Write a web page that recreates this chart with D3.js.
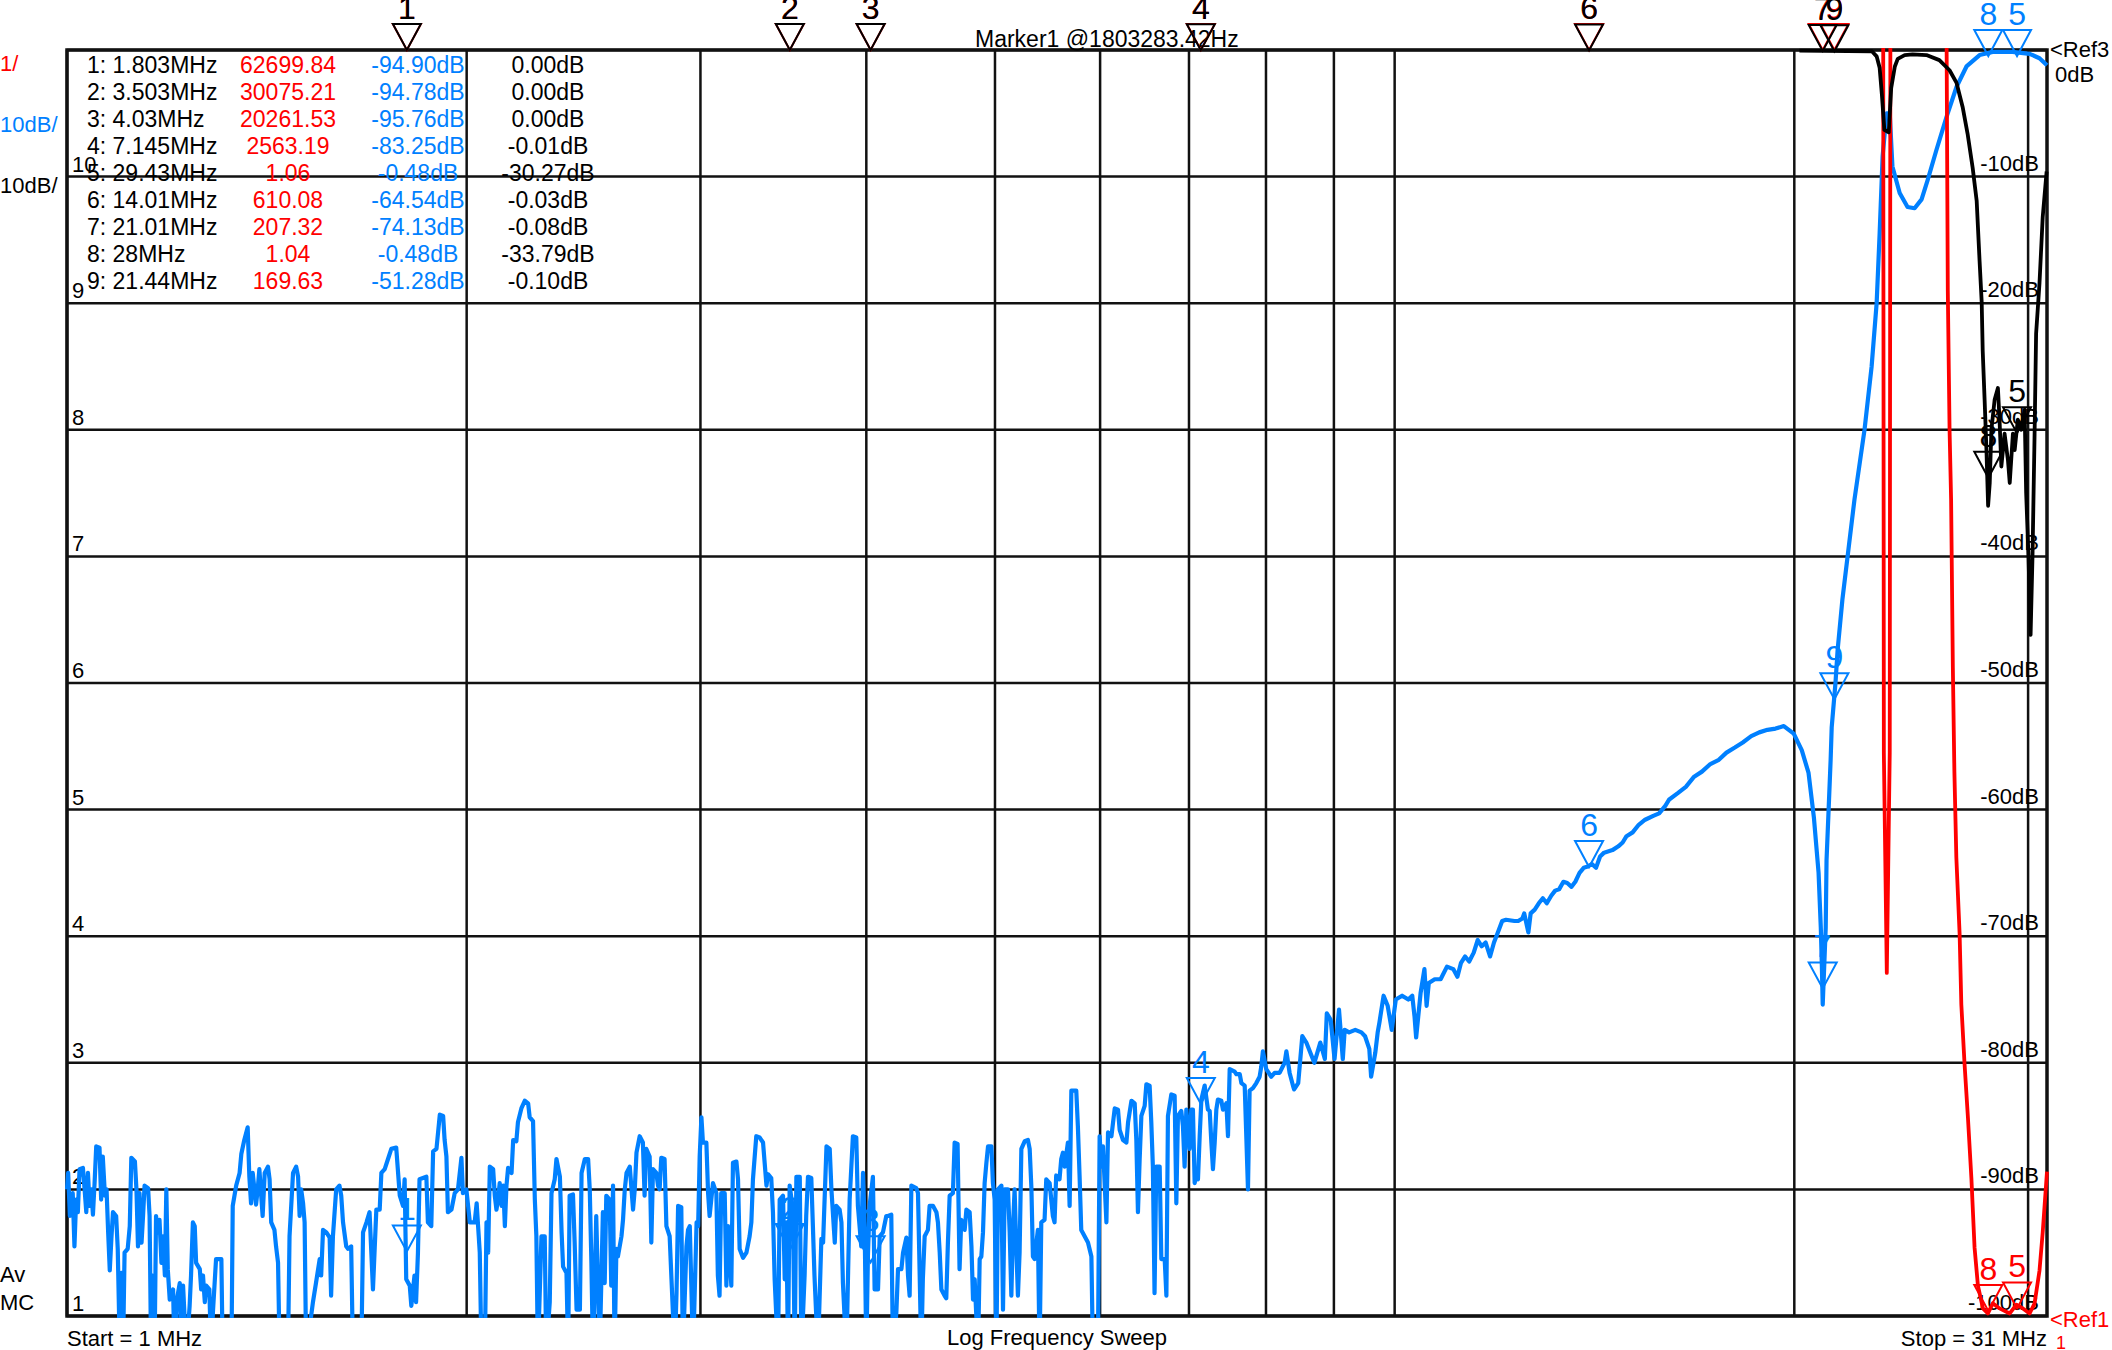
<!DOCTYPE html>
<html>
<head>
<meta charset="utf-8">
<script src="https://cdn.jsdelivr.net/npm/d3@7"></script>
<style>
html, body { margin: 0; padding: 0; background: #fff; }
svg text { font-family: "Liberation Sans", Arial, sans-serif; }
</style>
</head>
<body>
<div id="chart"></div>
<script>
// marker table
const markerIds = [1, 2, 3, 4, 5, 6, 7, 8, 9];
const markerFreq = [1.803, 3.503, 4.03, 7.145, 29.43, 14.01, 21.01, 28, 21.44];
const markerRed = [62699.84, 30075.21, 20261.53, 2563.19, 1.06, 610.08, 207.32, 1.04, 169.63];
const markerBlue = [-94.90, -94.78, -95.76, -83.25, -0.48, -64.54, -74.13, -0.48, -51.28];
const markerBlack = [0.00, 0.00, 0.00, -0.01, -30.27, -0.03, -0.08, -33.79, -0.10];

// axes
const freqGrid = [1, 2, 3, 4, 5, 6, 7, 8, 9, 10, 20, 30];
const dbTicks = [0, -10, -20, -30, -40, -50, -60, -70, -80, -90, -100];
const ratioTicks = [1, 2, 3, 4, 5, 6, 7, 8, 9, 10];

// blue trace [MHz, dB]
const blueLow = [[1.000,-90.0],[1.002,-88.7],[1.005,-92.1],[1.010,-90.3],[1.013,-94.5],[1.016,-90.8],[1.019,-91.8],[1.022,-88.4],[1.028,-88.3],[1.031,-90.0],[1.034,-91.8],[1.037,-88.7],[1.040,-91.3],[1.043,-90.0],[1.046,-92.0],[1.049,-89.5],[1.052,-86.6],[1.058,-86.7],[1.061,-90.8],[1.064,-87.4],[1.068,-90.5],[1.071,-90.0],[1.074,-93.4],[1.077,-96.4],[1.080,-93.9],[1.083,-91.8],[1.089,-92.1],[1.092,-94.7],[1.096,-103],[1.099,-96.6],[1.102,-103],[1.105,-95.0],[1.111,-94.7],[1.115,-92.9],[1.118,-87.5],[1.125,-87.8],[1.128,-90.0],[1.131,-94.5],[1.134,-90.3],[1.138,-94.2],[1.141,-92.1],[1.144,-89.7],[1.151,-89.9],[1.154,-92.1],[1.157,-103],[1.160,-96.8],[1.164,-103],[1.167,-92.1],[1.171,-93.4],[1.174,-92.4],[1.178,-95.8],[1.181,-93.7],[1.185,-96.8],[1.188,-90.0],[1.191,-96.3],[1.195,-98.7],[1.202,-97.9],[1.205,-103],[1.209,-98.9],[1.216,-97.4],[1.219,-103],[1.223,-97.6],[1.230,-103],[1.237,-99.2],[1.240,-96.8],[1.244,-92.6],[1.248,-92.9],[1.251,-95.8],[1.259,-96.3],[1.262,-97.9],[1.266,-96.8],[1.270,-98.9],[1.273,-97.6],[1.280,-97.9],[1.284,-103],[1.288,-99.7],[1.295,-95.5],[1.307,-95.5],[1.310,-103],[1.330,-103],[1.333,-91.3],[1.341,-89.7],[1.349,-88.7],[1.353,-87.2],[1.360,-86.1],[1.368,-85.1],[1.372,-89.0],[1.376,-91.1],[1.380,-88.7],[1.388,-91.2],[1.392,-90.0],[1.396,-88.4],[1.404,-92.1],[1.409,-88.7],[1.417,-88.2],[1.421,-89.2],[1.425,-92.6],[1.433,-93.2],[1.437,-94.5],[1.442,-95.8],[1.446,-103],[1.467,-103],[1.471,-93.7],[1.480,-88.7],[1.488,-88.2],[1.493,-89.0],[1.497,-92.1],[1.501,-90.0],[1.506,-91.1],[1.510,-92.6],[1.514,-103],[1.532,-98.9],[1.540,-97.4],[1.550,-95.5],[1.554,-96.8],[1.559,-93.2],[1.568,-93.4],[1.577,-93.8],[1.581,-98.4],[1.586,-93.7],[1.595,-90.0],[1.604,-89.7],[1.609,-90.5],[1.614,-92.6],[1.623,-94.5],[1.628,-94.7],[1.637,-94.5],[1.642,-103],[1.666,-103],[1.671,-93.4],[1.681,-92.6],[1.690,-91.8],[1.700,-97.9],[1.710,-91.6],[1.720,-91.6],[1.725,-88.7],[1.735,-88.4],[1.745,-87.6],[1.755,-86.8],[1.770,-86.7],[1.781,-90.5],[1.791,-91.3],[1.796,-89.2],[1.801,-97.1],[1.812,-97.6],[1.817,-99.2],[1.827,-96.8],[1.832,-98.9],[1.838,-95.0],[1.843,-89.2],[1.854,-89.1],[1.865,-89.0],[1.870,-92.6],[1.881,-92.9],[1.887,-87.0],[1.898,-86.8],[1.909,-84.1],[1.920,-84.2],[1.925,-86.1],[1.931,-87.4],[1.936,-91.8],[1.948,-91.6],[1.959,-90.3],[1.970,-90.0],[1.982,-87.5],[1.987,-90.3],[1.999,-90.0],[2.011,-92.6]];

const blueMid = [[2.028,-92.6],[2.035,-91.1],[2.046,-95.0],[2.052,-103],[2.064,-103],[2.070,-92.6],[2.076,-95.0],[2.082,-88.2],[2.094,-88.4],[2.100,-90.5],[2.106,-91.6],[2.112,-90.8],[2.118,-89.5],[2.125,-91.3],[2.131,-89.7],[2.137,-92.9],[2.143,-89.7],[2.149,-88.3],[2.162,-88.7],[2.168,-86.1],[2.180,-86.2],[2.186,-84.7],[2.199,-83.6],[2.212,-83.0],[2.225,-83.2],[2.231,-84.3],[2.244,-84.6],[2.251,-90.8],[2.257,-93.7],[2.263,-103],[2.277,-93.7],[2.290,-93.7],[2.296,-103],[2.310,-98.9],[2.317,-90.3],[2.330,-89.2],[2.337,-87.6],[2.351,-89.0],[2.358,-93.4],[2.364,-96.1],[2.378,-96.6],[2.385,-103],[2.391,-90.5],[2.405,-90.4],[2.412,-94.2],[2.420,-99.5],[2.434,-99.5],[2.441,-88.7],[2.455,-87.6],[2.469,-87.6],[2.476,-90.0],[2.483,-95.8],[2.490,-103],[2.504,-92.1],[2.519,-103],[2.533,-91.8],[2.541,-97.4],[2.548,-90.5],[2.563,-90.8],[2.570,-97.6],[2.578,-89.7],[2.585,-103],[2.593,-94.7],[2.600,-95.3],[2.616,-93.7],[2.623,-92.4],[2.631,-90.0],[2.639,-88.7],[2.654,-88.2],[2.669,-91.6],[2.677,-90.0],[2.685,-87.1],[2.700,-85.8],[2.715,-86.3],[2.723,-90.5],[2.731,-86.8],[2.747,-87.4],[2.755,-94.2],[2.763,-88.4],[2.779,-88.7],[2.787,-89.7],[2.795,-90.0],[2.803,-87.5],[2.819,-87.6],[2.828,-92.9],[2.844,-93.7],[2.853,-97.1],[2.869,-103],[2.878,-98.2],[2.886,-91.3],[2.902,-91.4],[2.910,-103],[2.928,-94.5],[2.936,-93.2],[2.945,-92.9],[2.962,-103],[2.980,-92.6],[2.988,-92.9],[2.996,-87.4],[3.005,-84.3],[3.013,-86.3],[3.031,-86.3],[3.040,-90.3],[3.048,-92.1],[3.066,-89.5],[3.084,-90.3],[3.092,-96.8],[3.101,-98.4],[3.110,-90.3],[3.129,-90.3],[3.138,-97.6],[3.147,-92.9],[3.165,-97.6],[3.174,-87.9],[3.193,-87.8],[3.202,-89.2],[3.211,-94.7],[3.230,-95.4],[3.249,-95.0],[3.267,-93.7],[3.277,-92.6],[3.286,-89.2],[3.305,-85.8],[3.324,-85.9],[3.344,-86.3],[3.364,-89.7],[3.373,-88.8],[3.392,-89.1],[3.402,-91.8],[3.412,-97.1],[3.432,-103],[3.442,-90.8],[3.462,-90.5],[3.472,-97.1],[3.482,-92.6],[3.492,-103],[3.502,-89.7],[3.522,-91.6],[3.533,-103],[3.543,-89.0],[3.564,-89.0],[3.574,-103],[3.594,-96.8],[3.604,-92.1],[3.615,-89.0],[3.636,-89.1],[3.646,-92.9],[3.656,-96.8],[3.678,-103],[3.700,-93.9],[3.711,-94.2],[3.733,-86.6],[3.754,-86.8],[3.765,-90.0],[3.787,-94.2],[3.797,-91.3],[3.819,-91.6],[3.831,-92.6],[3.841,-97.4],[3.864,-103],[3.886,-90.8],[3.908,-85.8],[3.931,-85.9],[3.942,-91.3],[3.965,-94.5],[3.977,-88.7],[3.988,-92.6],[4.000,-103],[4.011,-95.3],[4.023,-91.3],[4.046,-89.0],[4.058,-97.9],[4.082,-97.9],[4.094,-93.7],[4.117,-93.4],[4.141,-92.1]];

const blueRise = [[4.153,-92.1],[4.177,-92.0],[4.189,-103],[4.214,-99.7],[4.226,-96.3],[4.251,-96.3],[4.263,-95.0],[4.288,-93.8],[4.300,-96.8],[4.312,-98.4],[4.325,-89.7],[4.362,-89.9],[4.375,-90.3],[4.387,-96.3],[4.400,-103],[4.412,-97.1],[4.426,-93.7],[4.451,-93.2],[4.464,-91.3],[4.490,-91.3],[4.517,-91.8],[4.529,-92.6],[4.543,-95.0],[4.556,-97.9],[4.582,-98.4],[4.595,-98.6],[4.608,-94.2],[4.622,-90.5],[4.648,-90.3],[4.662,-86.3],[4.686,-86.4],[4.702,-96.3],[4.716,-92.4],[4.744,-93.2],[4.758,-91.6],[4.785,-91.8],[4.800,-94.5],[4.813,-98.7],[4.827,-97.1],[4.855,-103],[4.869,-95.5],[4.883,-95.3],[4.897,-93.4],[4.911,-89.5],[4.926,-87.9],[4.940,-86.6],[4.969,-86.6],[4.982,-89.5],[4.997,-90.8],[5.012,-103],[5.026,-90.0],[5.056,-89.7],[5.070,-99.5],[5.085,-90.0],[5.114,-90.0],[5.129,-93.4],[5.144,-98.4],[5.159,-92.9],[5.173,-90.0],[5.188,-94.5],[5.203,-98.4],[5.218,-95.0],[5.234,-86.8],[5.264,-86.2],[5.294,-86.1],[5.310,-86.8],[5.326,-89.9],[5.340,-95.3],[5.356,-95.5],[5.386,-93.2],[5.402,-103],[5.418,-92.6],[5.449,-92.4],[5.465,-89.2],[5.497,-89.5],[5.528,-92.1],[5.544,-92.6],[5.560,-88.9],[5.592,-89.2],[5.609,-87.6],[5.625,-87.1],[5.642,-88.2],[5.674,-86.3],[5.691,-91.3],[5.708,-82.2],[5.757,-82.2],[5.773,-85.0],[5.790,-88.9],[5.807,-93.2],[5.841,-93.7],[5.875,-94.2],[5.910,-95.3],[5.926,-103],[5.977,-103],[5.995,-85.8],[6.013,-88.2],[6.030,-86.6],[6.066,-92.6],[6.083,-85.5],[6.119,-85.8],[6.154,-83.6],[6.189,-83.7],[6.207,-85.3],[6.243,-86.1],[6.280,-86.3],[6.298,-84.7],[6.335,-83.0],[6.371,-83.2],[6.389,-86.1],[6.407,-91.8],[6.426,-87.6],[6.445,-84.2],[6.482,-83.4],[6.501,-81.7],[6.538,-81.8],[6.557,-84.7],[6.575,-88.2],[6.594,-98.2],[6.614,-88.2],[6.653,-88.2],[6.672,-95.5],[6.711,-95.5],[6.731,-98.4],[6.749,-84.2],[6.789,-82.5],[6.828,-82.6],[6.848,-91.1],[6.867,-84.2],[6.907,-83.8],[6.927,-85.0],[6.947,-88.2],[6.968,-83.7],[7.007,-86.8],[7.028,-83.7],[7.048,-83.7],[7.069,-89.5],[7.090,-88.9],[7.110,-89.2],[7.131,-85.8],[7.152,-82.9],[7.193,-81.8],[7.234,-83.7],[7.256,-83.8],[7.277,-86.3],[7.297,-88.4],[7.319,-86.3],[7.340,-83.7],[7.360,-82.9],[7.404,-83.0],[7.425,-83.7],[7.469,-83.2],[7.490,-85.8],[7.512,-80.5],[7.577,-80.7],[7.600,-80.9],[7.644,-80.9],[7.666,-81.6],[7.710,-81.8],[7.754,-90.0],[7.776,-82.2],[7.821,-82.0],[7.867,-81.6],[7.912,-81.1],[7.935,-80.3],[7.957,-79.1],[8.004,-80.5],[8.074,-81.1],[8.121,-80.8],[8.191,-80.8],[8.263,-80.0],[8.288,-79.1],[8.335,-80.8],[8.383,-81.8]];

const blueHigh = [[8.40,-82.1],[8.46,-81.6],[8.52,-77.9],[8.58,-78.4],[8.64,-79.2],[8.70,-80.0],[8.79,-78.4],[8.86,-79.7],[8.89,-76.1],[8.95,-76.6],[9.01,-79.7],[9.08,-75.8],[9.14,-79.7],[9.17,-77.4],[9.24,-77.6],[9.34,-77.4],[9.44,-77.6],[9.50,-77.9],[9.57,-78.9],[9.60,-81.1],[9.67,-79.2],[9.71,-77.6],[9.74,-76.8],[9.81,-74.7],[9.88,-75.5],[9.95,-77.4],[10.02,-75.0],[10.13,-74.7],[10.24,-75.0],[10.31,-74.7],[10.35,-76.3],[10.38,-78.0],[10.46,-74.5],[10.53,-72.6],[10.57,-75.5],[10.61,-73.7],[10.72,-73.4],[10.83,-73.4],[10.95,-72.4],[11.07,-72.6],[11.15,-73.2],[11.22,-72.1],[11.30,-71.6],[11.38,-72.0],[11.47,-71.3],[11.55,-70.3],[11.63,-70.8],[11.71,-70.5],[11.80,-71.6],[11.88,-70.5],[11.96,-69.7],[12.05,-68.8],[12.13,-68.7],[12.31,-68.8],[12.39,-68.8],[12.48,-68.6],[12.52,-68.2],[12.61,-69.7],[12.66,-68.2],[12.75,-67.9],[12.84,-67.4],[12.93,-67.0],[13.02,-67.4],[13.12,-66.8],[13.21,-66.4],[13.30,-66.3],[13.40,-65.7],[13.49,-65.8],[13.59,-66.1],[13.68,-65.7],[13.78,-65.0],[13.88,-64.6],[13.98,-64.5],[14.08,-64.3],[14.18,-64.6],[14.28,-63.7],[14.38,-63.4],[14.59,-63.2],[14.74,-62.9],[14.85,-62.6],[14.95,-62.1],[15.11,-61.8],[15.27,-61.2],[15.44,-60.8],[15.66,-60.5],[15.82,-60.3],[15.99,-59.7],[16.10,-59.2],[16.34,-58.7],[16.57,-58.2],[16.81,-57.4],[17.04,-57.0],[17.29,-56.4],[17.53,-56.1],[17.78,-55.5],[18.04,-55.1],[18.29,-54.7],[18.56,-54.2],[18.82,-53.9],[19.09,-53.7],[19.36,-53.6],[19.64,-53.4],[19.98,-54.0],[20.26,-55.3],[20.50,-57.1],[20.69,-60.6],[20.86,-65.0],[20.94,-69.3],[20.98,-72.4],[21.01,-75.4],[21.12,-69.3],[21.15,-64.0],[21.23,-59.8],[21.30,-56.1],[21.34,-53.5],[21.48,-50.0],[21.56,-47.4],[21.74,-43.4],[22.20,-35.5],[22.59,-30.0],[22.87,-25.0],[23.07,-20.0],[23.19,-14.5],[23.31,-8.4],[23.47,-5.0],[23.60,-5.0],[23.71,-9.2],[24.01,-11.3],[24.34,-12.4],[24.64,-12.5],[24.94,-11.8],[25.20,-10.3],[25.59,-7.9],[26.04,-5.3],[26.50,-2.9],[26.96,-1.3],[27.58,-0.4],[28.21,-0.15],[29.20,-0.15],[30.08,-0.3],[30.60,-0.65],[31.0,-1.2]];

// black trace [MHz, dB]
const blackTrace = [[20.18,-0.05],[22.88,-0.1],[23.07,-0.5],[23.19,-1.4],[23.28,-3.5],[23.38,-6.3],[23.56,-6.5],[23.66,-3.0],[23.81,-1.3],[23.93,-0.7],[24.22,-0.4],[24.55,-0.35],[25.15,-0.4],[25.72,-0.8],[26.18,-1.6],[26.50,-2.6],[26.78,-4.5],[27.01,-6.6],[27.25,-9.3],[27.44,-11.9],[27.58,-16.7],[27.68,-19.9],[27.73,-23.8],[27.82,-27.6],[27.91,-31.6],[27.99,-36.0],[28.07,-34.2],[28.15,-30.0],[28.31,-27.6],[28.47,-26.7],[28.55,-29.2],[28.64,-32.9],[28.80,-30.3],[28.97,-32.4],[29.06,-34.2],[29.22,-30.3],[29.31,-31.6],[29.47,-29.2],[29.65,-30.0],[29.82,-28.4],[29.90,-35.0],[30.02,-40.0],[30.13,-46.2],[30.23,-40.0],[30.34,-30.3],[30.42,-22.4],[30.60,-18.4],[30.77,-13.2],[30.91,-10.8],[30.98,-9.6]];

// red trace [MHz, ratio]
const redTrace = [[1.803,62699.84],[3.503,30075.21],[4.03,20261.53],[7.145,2563.19],[14.01,610.08],[21.01,207.32],[21.44,169.63],[23.33,150],[23.36,5.45],[23.48,3.71],[23.60,5.45],[23.63,150],[25.5,300],[26.02,12],[26.10,9.1],[26.18,8.0],[26.25,7.45],[26.33,6.12],[26.40,5.3],[26.49,4.62],[26.64,4.02],[26.72,3.46],[26.87,2.99],[27.03,2.56],[27.19,2.09],[27.34,1.54],[27.50,1.24],[27.74,1.06],[27.98,1.02],[28.22,1.10],[28.55,1.06],[29.06,1.02],[29.40,1.09],[29.73,1.06],[30.08,1.02],[30.34,1.10],[30.60,1.36],[30.77,1.66],[31.0,2.14]];

const BLUE = "#0080ff", RED = "#ff0000", BLACK = "#000";

const width = 2112, height = 1350;
const pLeft = 67, pRight = 2047, pTop = 50, pBottom = 1316;

const svg = d3.select("#chart").append("svg")
    .attr("width", width)
    .attr("height", height);

const x = d3.scaleLog().domain([1, 31]).range([pLeft, pRight]);
const yDb = d3.scaleLinear().domain([-100, 0]).range([pBottom, pTop]);
const yRatio = d3.scaleLinear().domain([1, 11]).range([pBottom, pTop]);

// grid
svg.append("g").selectAll("line")
    .data(freqGrid)
    .join("line")
    .attr("x1", d => x(d)).attr("x2", d => x(d))
    .attr("y1", pTop).attr("y2", pBottom)
    .attr("stroke", "#111").attr("stroke-width", 2.5);

svg.append("g").selectAll("line")
    .data(dbTicks)
    .join("line")
    .attr("x1", pLeft).attr("x2", pRight)
    .attr("y1", d => yDb(d)).attr("y2", d => yDb(d))
    .attr("stroke", "#111").attr("stroke-width", 2.5);

svg.append("rect")
    .attr("x", pLeft).attr("y", pTop)
    .attr("width", pRight - pLeft).attr("height", pBottom - pTop)
    .attr("fill", "none").attr("stroke", "#111").attr("stroke-width", 3.5);

// left ratio labels and right dB labels
svg.append("g").selectAll("text")
    .data(ratioTicks)
    .join("text")
    .attr("x", pLeft + 5).attr("y", d => yRatio(d) - 5)
    .attr("font-size", 22)
    .text(d => d);

svg.append("g").selectAll("text")
    .data(dbTicks.slice(1))
    .join("text")
    .attr("x", pRight - 8).attr("y", d => yDb(d) - 6)
    .attr("text-anchor", "end")
    .attr("font-size", 22)
    .text(d => d + "dB");

// marker table
const table = svg.append("g").attr("font-size", 23);
const rowY = (d, i) => 73 + i * 27;
table.selectAll(".mf").data(markerIds).join("text")
    .attr("x", 87).attr("y", rowY)
    .text((d, i) => d + ": " + markerFreq[i] + "MHz");
table.selectAll(".mr").data(markerRed).join("text")
    .attr("x", 288).attr("y", rowY).attr("text-anchor", "middle").attr("fill", RED)
    .text(d => d.toFixed(2));
table.selectAll(".mb").data(markerBlue).join("text")
    .attr("x", 418).attr("y", rowY).attr("text-anchor", "middle").attr("fill", BLUE)
    .text(d => d.toFixed(2) + "dB");
table.selectAll(".mk").data(markerBlack).join("text")
    .attr("x", 548).attr("y", rowY).attr("text-anchor", "middle")
    .text(d => d.toFixed(2) + "dB");

// side and bottom text
const notes = svg.append("g").attr("font-size", 22);
notes.append("text").attr("x", 0).attr("y", 71).attr("fill", RED).text("1/");
notes.append("text").attr("x", 0).attr("y", 132).attr("fill", BLUE).text("10dB/");
notes.append("text").attr("x", 0).attr("y", 193).text("10dB/");
notes.append("text").attr("x", 0).attr("y", 1282).text("Av");
notes.append("text").attr("x", 0).attr("y", 1310).text("MC");
notes.append("text").attr("x", pLeft).attr("y", 1346).text("Start = 1 MHz");
notes.append("text").attr("x", (pLeft + pRight) / 2).attr("y", 1345).attr("text-anchor", "middle").text("Log Frequency Sweep");
notes.append("text").attr("x", pRight).attr("y", 1346).attr("text-anchor", "end").text("Stop = 31 MHz");
notes.append("text").attr("x", 2050).attr("y", 57).text("<Ref3");
notes.append("text").attr("x", 2055).attr("y", 82).text("0dB");
notes.append("text").attr("x", 2050).attr("y", 1327).attr("fill", RED).text("<Ref1");
notes.append("text").attr("x", 2056).attr("y", 1349).attr("fill", RED).attr("font-size", 18).text("1");
notes.append("text").attr("x", 975).attr("y", 47).attr("font-size", 23).text("Marker1 @1803283.42Hz");

// traces
svg.append("clipPath").attr("id", "plot")
    .append("rect")
    .attr("x", pLeft - 2).attr("y", pTop - 2)
    .attr("width", pRight - pLeft + 4).attr("height", pBottom - pTop + 4);

const traces = svg.append("g").attr("clip-path", "url(#plot)");

const dbLine = d3.line().x(d => x(d[0])).y(d => yDb(d[1]));
const ratioLine = d3.line().x(d => x(d[0])).y(d => yRatio(Math.min(d[1], 12)));

traces.append("path")
    .datum([].concat(blueLow, blueMid, blueRise, blueHigh))
    .attr("d", dbLine)
    .attr("fill", "none").attr("stroke", BLUE)
    .attr("stroke-width", 4.2).attr("stroke-linejoin", "round");

traces.append("path")
    .datum(redTrace)
    .attr("d", ratioLine)
    .attr("fill", "none").attr("stroke", RED)
    .attr("stroke-width", 3.8).attr("stroke-linejoin", "round");

traces.append("path")
    .datum(blackTrace)
    .attr("d", dbLine)
    .attr("fill", "none").attr("stroke", BLACK)
    .attr("stroke-width", 3.8).attr("stroke-linejoin", "round");

// markers on each trace
function drawMarkers(values, yOf, color) {
    const g = svg.append("g");
    const pts = markerIds.map((id, i) => ({ id, px: x(markerFreq[i]), py: yOf(values[i]) }));
    g.selectAll("path").data(pts).join("path")
        .attr("d", d => `M${d.px - 14},${d.py - 26}L${d.px + 14},${d.py - 26}L${d.px},${d.py}Z`)
        .attr("fill", "none").attr("stroke", color).attr("stroke-width", 2);
    g.selectAll("text").data(pts).join("text")
        .attr("x", d => d.px).attr("y", d => d.py - 31)
        .attr("text-anchor", "middle").attr("font-size", 32)
        .attr("fill", color)
        .text(d => d.id);
}

drawMarkers(markerRed, v => yRatio(Math.min(v, 11)), RED);
drawMarkers(markerBlue, v => yDb(v), BLUE);
drawMarkers(markerBlack, v => yDb(v), BLACK);
</script>
</body>
</html>
